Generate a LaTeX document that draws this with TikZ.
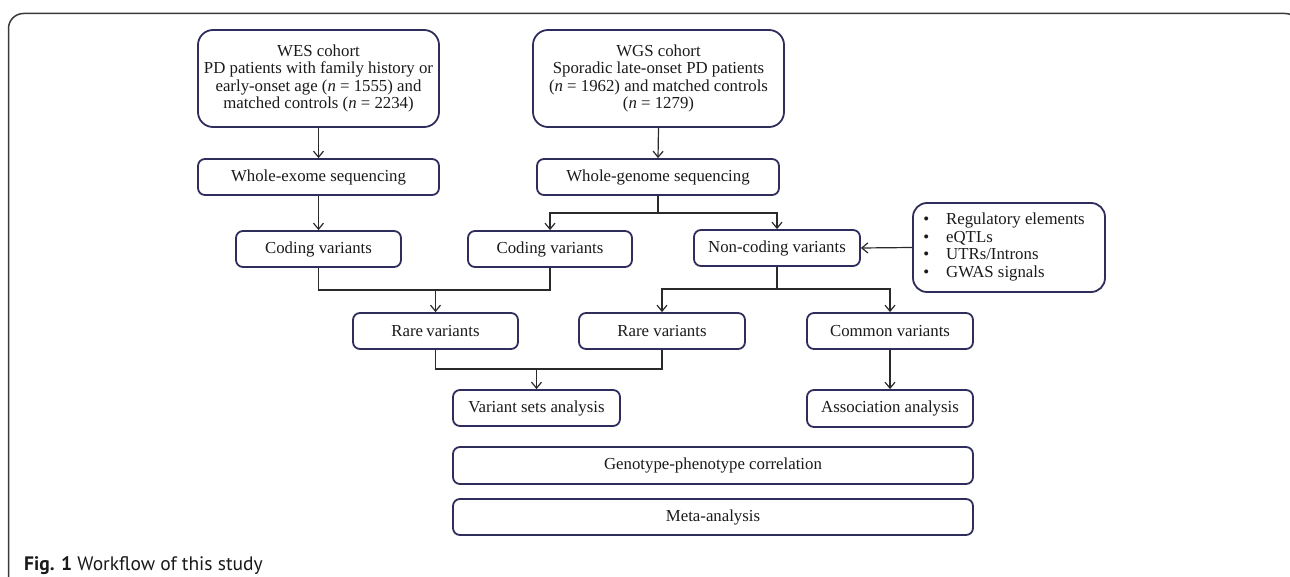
\documentclass[tikz,border=0pt]{standalone}
\usepackage{fontspec}
\setmainfont{Liberation Serif}
\newfontfamily\capfont{PT Sans}
\usetikzlibrary{arrows.meta}
\definecolor{boxc}{HTML}{2E2D5C}
\definecolor{linec}{HTML}{2A2A2A}
\definecolor{framec}{HTML}{3A3A3A}
\definecolor{txtc}{HTML}{1A1A1A}
\tikzset{
  box/.style={draw=boxc, line width=1.8pt, rounded corners=7pt, align=center, inner sep=0pt,
    text=txtc, font=\fontsize{16.8}{17.4}\selectfont},
  bigbox/.style={box, rounded corners=15pt},
  arr/.style={draw=linec, line width=1.2pt, -{Straight Barb[length=6pt,width=10pt]}},
  ln/.style={draw=linec, line width=1.2pt},
}
\begin{document}
\begin{tikzpicture}[x=1pt,y=-1pt]
\useasboundingbox (0,0) rectangle (1290,577);
\begin{scope}
\clip (0,0) rectangle (1290,577);
\draw[framec, line width=1.5pt, rounded corners=15pt] (8.5,620) -- (8.5,13.5) -- (1300,13.5) -- (1300,620);
\end{scope}

% nodes
\node[bigbox, minimum width=241pt, minimum height=97pt] (wes) at (318.5,78.5)
  {WES cohort\\PD patients  with family history or\\early-onset  age (\textit{n} = 1555) and\\matched controls (\textit{n} = 2234)};
\node[bigbox, minimum width=251pt, minimum height=97pt] (wgs) at (658.5,78.5)
  {WGS cohort\\Sporadic  late-onset PD patients\\(\textit{n} = 1962) and  matched controls\\(\textit{n} = 1279)};
\node[box, minimum width=241pt, minimum height=36pt] (we) at (318.5,177) {Whole-exome sequencing};
\node[box, minimum width=242pt, minimum height=36pt] (wg) at (658,177) {Whole-genome  sequencing};
\node[box, minimum width=165pt, minimum height=36pt] (codL) at (318.5,249) {Coding variants};
\node[box, minimum width=164pt, minimum height=36pt] (codM) at (550,249) {Coding variants};
\node[box, minimum width=166pt, minimum height=36pt] (nonc) at (777,248) {Non-coding variants};
\node[box, rounded corners=14pt, minimum width=192pt, minimum height=89pt, align=left] (side) at (1009,247.5)
  {\begin{tabular}{@{}l@{\hspace{17pt}}l@{}}
   \textbullet & Regulatory elements\\[0.3pt]
   \textbullet & eQTLs\\[0.3pt]
   \textbullet & UTRs/Introns\\[0.3pt]
   \textbullet & GWAS signals
   \end{tabular}\hspace*{10pt}};
\node[box, minimum width=165pt, minimum height=36pt] (rareL) at (435.5,331) {Rare\hspace{-1pt} variants};
\node[box, minimum width=166pt, minimum height=36pt] (rareM) at (662,331) {Rare variants};
\node[box, minimum width=166pt, minimum height=36pt] (common) at (890,331) {Common variants};
\node[box, minimum width=167pt, minimum height=36pt] (vsa) at (536.5,408) {Variant sets analysis};
\node[box, minimum width=166pt, minimum height=37pt] (assoc) at (890,408.5) {Association analysis};
\node[box, minimum width=520pt, minimum height=37pt] (geno) at (713,465.5) {Genotype-phenotype correlation};
\node[box, minimum width=520pt, minimum height=36pt] (meta) at (713,517) {Meta-analysis};

\node[anchor=base west, inner sep=0pt, font=\capfont\fontsize{19.5}{22}\selectfont, text=txtc] (cap) at (24,570)
  {\textbf{Fig. 1} Workflow of this study};

% junction coordinates
\coordinate (j1) at (658,213);
\coordinate (j2) at (435.5,290);
\coordinate (j3) at (777,289);
\coordinate (j4) at (536.5,369);

% connectors
\draw[arr] (wes.south) -- (we.north);
\draw[arr] (wgs.south) -- (wg.north);
\draw[arr] (we.south) -- (codL.north);
\draw[ln] (wg.south) -- (j1);
\draw[arr] (j1) -| (codM.north);
\draw[arr] (j1) -| (nonc.north);
\draw[ln] (codL.south) |- (j2) -| (codM.south);
\draw[arr] (j2) -- (rareL.north);
\draw[ln] (nonc.south) -- (j3);
\draw[arr] (j3) -| (rareM.north);
\draw[arr] (j3) -| (common.north);
\draw[ln] (rareL.south) |- (j4) -| (rareM.south);
\draw[arr] (j4) -- (vsa.north);
\draw[arr] (common.south) -- (assoc.north);
\draw[arr] (side.west) -- (nonc.east);
\end{tikzpicture}
\end{document}
